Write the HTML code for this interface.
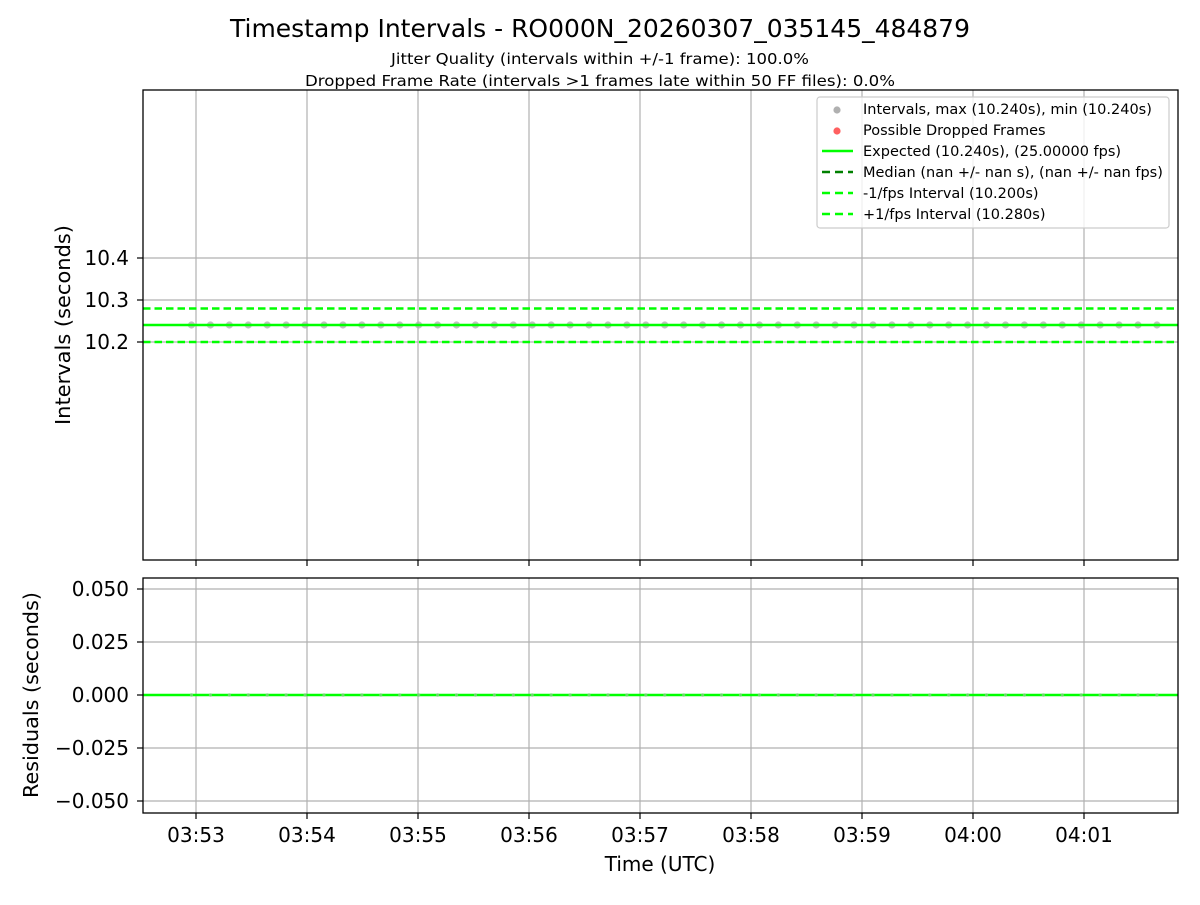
<!DOCTYPE html>
<html><head><meta charset="utf-8"><style>
html,body{margin:0;padding:0;background:#fff}
svg text{font-family:"DejaVu Sans","Liberation Sans",sans-serif;fill:#000}
</style></head><body>
<svg width="1200" height="900" viewBox="0 0 1200 900" xmlns="http://www.w3.org/2000/svg">
<defs>
<pattern id="dots" patternUnits="userSpaceOnUse" x="182.035" y="320" width="18.93" height="10"><circle cx="9.465" cy="5" r="3.6" fill="#b0b0b0" fill-opacity="0.8"/></pattern>
<pattern id="dots2" patternUnits="userSpaceOnUse" x="182.035" y="690" width="18.93" height="10"><circle cx="9.465" cy="5" r="1.6" fill="#6cd66c"/></pattern>
</defs>
<rect width="1200" height="900" fill="#fff"/>
<text x="600" y="37" font-size="24.5" text-anchor="middle" textLength="740" lengthAdjust="spacingAndGlyphs">Timestamp Intervals - RO000N_20260307_035145_484879</text>
<text x="600" y="64" font-size="15.5" text-anchor="middle" textLength="418" lengthAdjust="spacingAndGlyphs">Jitter Quality (intervals within +/-1 frame): 100.0%</text>
<text x="600" y="86" font-size="15.5" text-anchor="middle" textLength="590" lengthAdjust="spacingAndGlyphs">Dropped Frame Rate (intervals &gt;1 frames late within 50 FF files): 0.0%</text>

<g stroke="#b0b0b0" stroke-width="1.2">
<line x1="196" y1="90" x2="196" y2="560"/><line x1="307" y1="90" x2="307" y2="560"/><line x1="418" y1="90" x2="418" y2="560"/><line x1="529" y1="90" x2="529" y2="560"/><line x1="640" y1="90" x2="640" y2="560"/><line x1="751" y1="90" x2="751" y2="560"/><line x1="862" y1="90" x2="862" y2="560"/><line x1="973" y1="90" x2="973" y2="560"/><line x1="1084" y1="90" x2="1084" y2="560"/>
<line x1="143" y1="258" x2="1178" y2="258"/><line x1="143" y1="300" x2="1178" y2="300"/><line x1="143" y1="342" x2="1178" y2="342"/>
</g>
<rect x="182" y="320" width="985" height="10" fill="url(#dots)"/>
<line x1="143" y1="325" x2="1178" y2="325" stroke="#00ff00" stroke-width="2.6"/>
<line x1="143" y1="308.5" x2="1178" y2="308.5" stroke="#00ff00" stroke-width="2.6" stroke-dasharray="7.5,4"/>
<line x1="143" y1="342" x2="1178" y2="342" stroke="#00ff00" stroke-width="2.6" stroke-dasharray="7.5,4"/>
<rect x="143" y="90" width="1035" height="470" fill="none" stroke="#000" stroke-width="1.3"/>
<g stroke="#000" stroke-width="1.2">
<line x1="137" y1="258" x2="143" y2="258"/><line x1="137" y1="300" x2="143" y2="300"/><line x1="137" y1="342" x2="143" y2="342"/>
<line x1="196" y1="560" x2="196" y2="566"/><line x1="307" y1="560" x2="307" y2="566"/><line x1="418" y1="560" x2="418" y2="566"/><line x1="529" y1="560" x2="529" y2="566"/><line x1="640" y1="560" x2="640" y2="566"/><line x1="751" y1="560" x2="751" y2="566"/><line x1="862" y1="560" x2="862" y2="566"/><line x1="973" y1="560" x2="973" y2="566"/><line x1="1084" y1="560" x2="1084" y2="566"/>
</g>
<g font-size="20" text-anchor="end">
<text x="129" y="265">10.4</text><text x="129" y="307">10.3</text><text x="129" y="349">10.2</text>
</g>
<text transform="translate(70,325) rotate(-90)" font-size="20" text-anchor="middle" textLength="200" lengthAdjust="spacingAndGlyphs">Intervals (seconds)</text>

<rect x="817" y="97" width="352" height="131" rx="3" fill="#fff" fill-opacity="0.8" stroke="#cccccc" stroke-width="1.2"/>
<g font-size="14.5">
<circle cx="837" cy="110" r="3.6" fill="#b0b0b0"/><text x="863" y="114">Intervals, max (10.240s), min (10.240s)</text>
<circle cx="837" cy="131" r="3.6" fill="#ff6060"/><text x="863" y="135">Possible Dropped Frames</text>
<line x1="822" y1="151" x2="853" y2="151" stroke="#00ff00" stroke-width="2.6"/><text x="863" y="156">Expected (10.240s), (25.00000 fps)</text>
<line x1="822" y1="172" x2="853" y2="172" stroke="#008000" stroke-width="2.6" stroke-dasharray="8,5"/><text x="863" y="177">Median (nan +/- nan s), (nan +/- nan fps)</text>
<line x1="822" y1="193" x2="853" y2="193" stroke="#00ff00" stroke-width="2.6" stroke-dasharray="8,5"/><text x="863" y="198">-1/fps Interval (10.200s)</text>
<line x1="822" y1="214" x2="853" y2="214" stroke="#00ff00" stroke-width="2.6" stroke-dasharray="8,5"/><text x="863" y="219">+1/fps Interval (10.280s)</text>
</g>

<g stroke="#b0b0b0" stroke-width="1.2">
<line x1="196" y1="578" x2="196" y2="813"/><line x1="307" y1="578" x2="307" y2="813"/><line x1="418" y1="578" x2="418" y2="813"/><line x1="529" y1="578" x2="529" y2="813"/><line x1="640" y1="578" x2="640" y2="813"/><line x1="751" y1="578" x2="751" y2="813"/><line x1="862" y1="578" x2="862" y2="813"/><line x1="973" y1="578" x2="973" y2="813"/><line x1="1084" y1="578" x2="1084" y2="813"/>
<line x1="143" y1="589" x2="1178" y2="589"/><line x1="143" y1="642" x2="1178" y2="642"/><line x1="143" y1="748" x2="1178" y2="748"/><line x1="143" y1="801" x2="1178" y2="801"/>
</g>
<line x1="143" y1="695" x2="1178" y2="695" stroke="#00ff00" stroke-width="2.6"/>
<rect x="182" y="690" width="985" height="10" fill="url(#dots2)"/>
<rect x="143" y="578" width="1035" height="235" fill="none" stroke="#000" stroke-width="1.3"/>
<g stroke="#000" stroke-width="1.2">
<line x1="137" y1="589" x2="143" y2="589"/><line x1="137" y1="642" x2="143" y2="642"/><line x1="137" y1="695" x2="143" y2="695"/><line x1="137" y1="748" x2="143" y2="748"/><line x1="137" y1="801" x2="143" y2="801"/>
<line x1="196" y1="813" x2="196" y2="819"/><line x1="307" y1="813" x2="307" y2="819"/><line x1="418" y1="813" x2="418" y2="819"/><line x1="529" y1="813" x2="529" y2="819"/><line x1="640" y1="813" x2="640" y2="819"/><line x1="751" y1="813" x2="751" y2="819"/><line x1="862" y1="813" x2="862" y2="819"/><line x1="973" y1="813" x2="973" y2="819"/><line x1="1084" y1="813" x2="1084" y2="819"/>
</g>
<g font-size="20" text-anchor="end">
<text x="129" y="596">0.050</text><text x="129" y="649">0.025</text><text x="129" y="702">0.000</text><text x="129" y="755">−0.025</text><text x="129" y="808">−0.050</text>
</g>
<text transform="translate(38,695) rotate(-90)" font-size="20" text-anchor="middle" textLength="206" lengthAdjust="spacingAndGlyphs">Residuals (seconds)</text>
<g font-size="20" text-anchor="middle">
<text x="196" y="842">03:53</text><text x="307" y="842">03:54</text><text x="418" y="842">03:55</text><text x="529" y="842">03:56</text><text x="640" y="842">03:57</text><text x="751" y="842">03:58</text><text x="862" y="842">03:59</text><text x="973" y="842">04:00</text><text x="1084" y="842">04:01</text>
</g>
<text x="660" y="871" font-size="20" text-anchor="middle">Time (UTC)</text>
</svg>
</body></html>
